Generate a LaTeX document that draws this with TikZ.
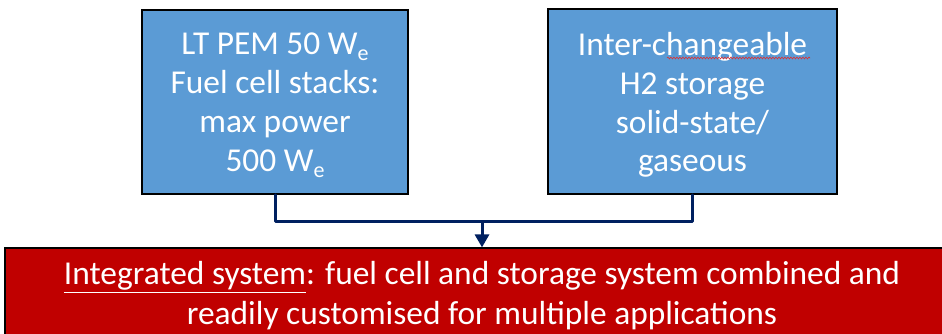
\documentclass[tikz,border=0pt]{standalone}
\usepackage{fontspec}
\setmainfont{Carlito}
\usetikzlibrary{arrows.meta,decorations.pathmorphing}

\definecolor{boxblue}{HTML}{5B9BD5}
\definecolor{sysred}{HTML}{C00000}
\definecolor{navy}{HTML}{002060}
\definecolor{spellred}{HTML}{E03030}

% lowered subscript "e" for electrical watts
\newcommand\elsub{\raisebox{-6pt}{\fontsize{22}{22}\selectfont e}}
% invisible strut that lifts the first line's top edge
\newcommand\topstrut[1]{\rule{0pt}{#1}}

\tikzset{
  x=1pt, y=-1pt,
  txt/.style={font=\fontsize{33.4}{38.8}\selectfont, text=white, align=center, inner sep=0pt},
  bluebox/.style={txt, draw=black, line width=1.6pt, fill=boxblue,
                  minimum width=266pt, minimum height=184pt},
  sysbox/.style={txt, font=\fontsize{33.4}{40}\selectfont, draw=black, line width=1.2pt,
                 fill=sysred, minimum width=954pt, minimum height=96pt},
  conn/.style={draw=navy, line width=3pt, line join=round, line cap=round},
}

\begin{document}
\begin{tikzpicture}
  \useasboundingbox (0,0) rectangle (942,333);

  % fuel cell stack block
  \node[bluebox, minimum width=266pt] (fc) at (275,102)
    {\topstrut{28pt}LT PEM 50 W\elsub\\Fuel cell stacks:\\max power\\500 W\elsub};

  % hydrogen storage block
  \node[bluebox, minimum width=289pt, minimum height=185pt] (h2) at (692.5,101.5)
    {\topstrut{30pt}Inter-changeable\\H2 storage\\solid-state/\\gaseous};

  % spell-check squiggle under "hangeable"
  \draw[spellred, line width=0.6pt, decorate,
        decoration={snake, amplitude=0.9pt, segment length=3pt}]
    (667,58) -- (810,58);

  % integrated system bar
  \begin{scope}
    \clip (0,0) rectangle (942,333);
    \node[sysbox] (sys) at (482,296)
      {\underline{Integrated system}: fuel cell and storage system combined and\\readily customised for multiple applications};
  \end{scope}

  % merging connector
  \coordinate (j) at (482,221);
  \draw[conn] (fc.south) |- (j);
  \draw[conn] (h2.south) |- (j);
  \draw[conn, line cap=butt, -{Triangle[width=14pt,length=13pt]}] (j) -- (sys.north);
\end{tikzpicture}
\end{document}
